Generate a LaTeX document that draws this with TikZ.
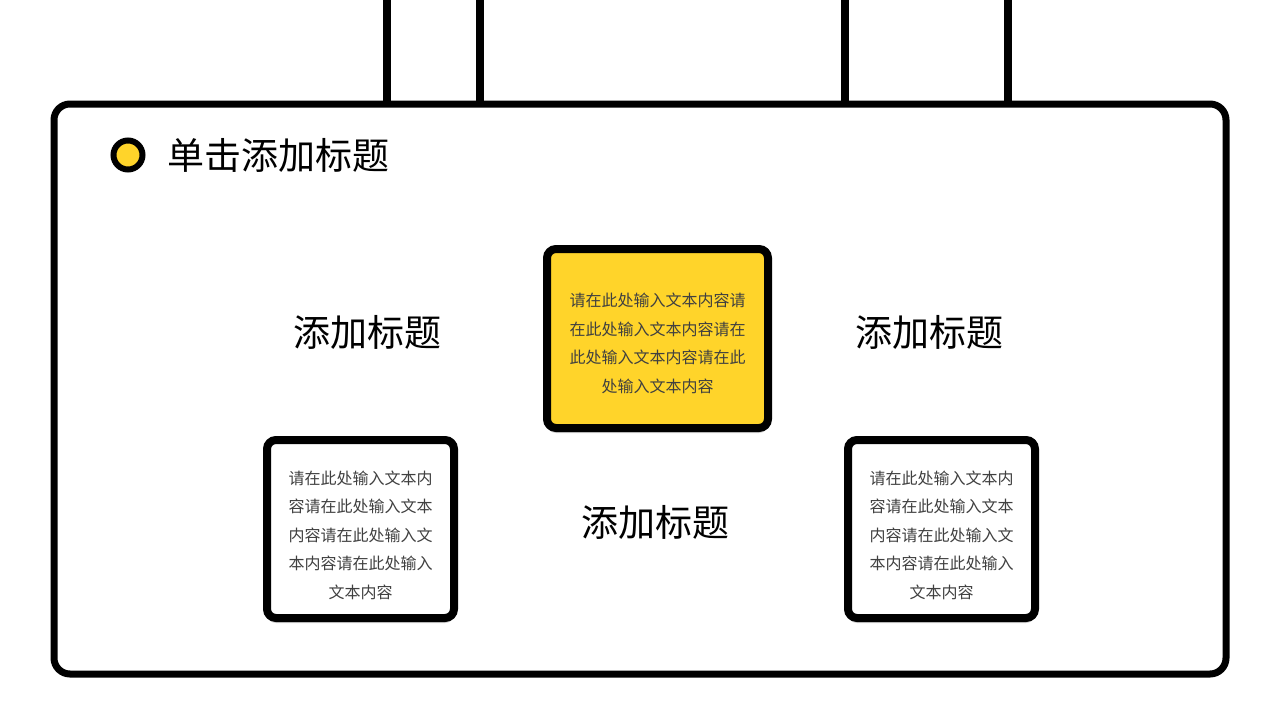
\documentclass[tikz,border=0pt]{standalone}
\usepackage{fontspec}
\setmainfont{Noto Sans CJK SC}
\usetikzlibrary{positioning, shadows}

\definecolor{sunny}{HTML}{FFD42A}

\begin{document}
\begin{tikzpicture}[
    x=1pt, y=-1pt,
    frame/.style={draw=black, line width=7pt, rounded corners=16pt, minimum width=1172pt, minimum height=570pt},
    hanger/.style={draw=black, line width=8pt},
    dot/.style={circle, draw=black, line width=6pt, fill=sunny, minimum size=29pt, inner sep=0pt},
    card/.style={rectangle, draw=black, line width=8pt, rounded corners=9pt, inner sep=0pt,
        drop shadow={shadow xshift=0pt, shadow yshift=-5pt, opacity=0.18, fill=black}},
    hubcard/.style={card, fill=sunny, minimum width=221pt, minimum height=179pt},
    sidecard/.style={card, fill=white, minimum width=187pt, minimum height=178pt},
    cardtext/.style={align=center, inner sep=0pt, text=black!75, font=\fontsize{16pt}{28.5pt}\selectfont},
    heading/.style={inner sep=0pt, font=\fontsize{37pt}{44pt}\selectfont},
    % style for the big title at the top
    main_title/.style={inner sep=0pt, font=\fontsize{37pt}{44pt}\selectfont}
]
\useasboundingbox (0,0) rectangle (1280,720);

% outer frame and the hangers on top of it
\node (frame) [frame] at (640,389) {};
\coordinate (h1) at (387,0);
\coordinate (h2) at (480,0);
\coordinate (h3) at (845,0);
\coordinate (h4) at (1008,0);
\foreach \h in {h1, h2, h3, h4}
    \draw [hanger] (\h) -- (\h |- frame.north);

% title
\node (bullet) [dot] at (128,155) {};
\node (title) [main_title, right=22pt of bullet] {单击添加标题};

% cards
\node (hub) [hubcard] at (657.5,338.5) {};
\node (leftcard) [sidecard] at (360.5,529) {};
\node (rightcard) [sidecard] at (941.5,529) {};

\node (hubtext) [cardtext] at ([yshift=-5pt]hub.center) {请在此处输入文本内容请\\在此处输入文本内容请在\\此处输入文本内容请在此\\处输入文本内容};
\node (lefttext) [cardtext] at ([yshift=-6pt]leftcard.center) {请在此处输入文本内\\容请在此处输入文本\\内容请在此处输入文\\本内容请在此处输入\\文本内容};
\node (righttext) [cardtext] at ([yshift=-6pt]rightcard.center) {请在此处输入文本内\\容请在此处输入文本\\内容请在此处输入文\\本内容请在此处输入\\文本内容};

% headings
\node (lefthead) [heading] at (367,332) {添加标题};
\node (righthead) [heading] at (929,332) {添加标题};
\node (bottomhead) [heading] at (655.5,522) {添加标题};

\end{tikzpicture}
\end{document}
